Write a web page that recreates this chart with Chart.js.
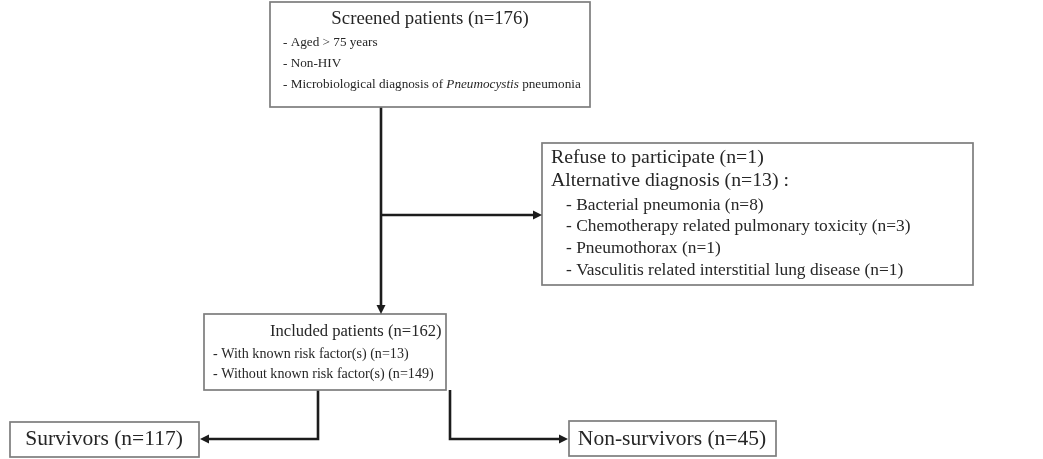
<!DOCTYPE html>
<html>
<head>
<meta charset="utf-8">
<script src="https://cdn.jsdelivr.net/npm/chart.js@4.4.1/dist/chart.umd.min.js"></script>
<style>
html,body{margin:0;padding:0;background:#fff;}
#wrap{width:1043px;height:459px;position:relative;}
</style>
</head>
<body>
<div id="wrap"><canvas id="c" width="1043" height="459"></canvas></div>
<script>
// ---- content (data) ----
const nodeLabels = ["Screened patients", "Included patients", "Survivors", "Non-survivors"];
const nodeCounts = [176, 162, 117, 45];
const criteriaLines = [
  [{t: "- Aged > 75 years"}],
  [{t: "- Non-HIV"}],
  [{t: "- Microbiological diagnosis of "}, {t: "Pneumocystis", i: true}, {t: " pneumonia"}]
];
const exclusionLabels = ["Refuse to participate", "Alternative diagnosis"];
const exclusionCounts = [1, 13];
const altDxLabels = ["Bacterial pneumonia", "Chemotherapy related pulmonary toxicity", "Pneumothorax", "Vasculitis related interstitial lung disease"];
const altDxCounts = [8, 3, 1, 1];
const riskLabels = ["With known risk factor(s)", "Without known risk factor(s)"];
const riskCounts = [13, 149];

// ---- layout (positions in a 1043 x 459 coordinate space) ----
const L = {
  screened: {x0: 270, y0: 2, x1: 590, y1: 107},
  excluded: {x0: 542, y0: 143, x1: 973, y1: 285},
  included: {x0: 204, y0: 314, x1: 446, y1: 390},
  survivors: {x0: 10, y0: 422, x1: 199, y1: 457},
  nonsurv: {x0: 569, y0: 421, x1: 776, y1: 456},
  mainX: 381, branchY: 215, splitY: 439, leftX: 318, rightX: 450
};
const serif = '"Liberation Serif", "Times New Roman", serif';
const boxColor = '#7d7d7d';
const lineColor = '#1c1c1c';
const textColor = '#262626';

const connectors = [
  [{x: L.mainX, y: L.screened.y1}, {x: L.mainX, y: L.included.y0 - 6}],
  [{x: L.mainX, y: L.branchY}, {x: L.excluded.x0 - 7, y: L.branchY}],
  [{x: L.leftX, y: L.included.y1}, {x: L.leftX, y: L.splitY}, {x: L.survivors.x1 + 9, y: L.splitY}],
  [{x: L.rightX, y: L.included.y1}, {x: L.rightX, y: L.splitY}, {x: L.nonsurv.x0 - 9, y: L.splitY}]
];
const arrowHeads = [
  {x: L.mainX, y: L.included.y0, dir: 'down'},
  {x: L.excluded.x0, y: L.branchY, dir: 'right'},
  {x: L.survivors.x1 + 1, y: L.splitY, dir: 'left'},
  {x: L.nonsurv.x0 - 1, y: L.splitY, dir: 'right'}
];

const flowPlugin = {
  id: 'flow',
  afterDatasetsDraw(chart) {
    const ctx = chart.ctx;
    const xs = chart.scales.x, ys = chart.scales.y;
    const px = v => xs.getPixelForValue(v);
    const py = v => ys.getPixelForValue(v);
    ctx.save();
    // boxes
    ctx.strokeStyle = boxColor;
    ctx.lineWidth = 1.7;
    ['screened', 'excluded', 'included', 'survivors', 'nonsurv'].forEach(k => {
      const b = L[k];
      ctx.strokeRect(px(b.x0), py(b.y0), px(b.x1) - px(b.x0), py(b.y1) - py(b.y0));
    });
    // arrowheads
    ctx.fillStyle = lineColor;
    arrowHeads.forEach(a => {
      const x = px(a.x), y = py(a.y), l = 9, w = 4.5;
      ctx.beginPath();
      if (a.dir === 'down') { ctx.moveTo(x, y); ctx.lineTo(x - w, y - l); ctx.lineTo(x + w, y - l); }
      if (a.dir === 'right') { ctx.moveTo(x, y); ctx.lineTo(x - l, y - w); ctx.lineTo(x - l, y + w); }
      if (a.dir === 'left') { ctx.moveTo(x, y); ctx.lineTo(x + l, y - w); ctx.lineTo(x + l, y + w); }
      ctx.closePath(); ctx.fill();
    });
    // text
    ctx.fillStyle = textColor;
    ctx.textBaseline = 'middle';
    const title = (s, n) => s + ' (n=' + n + ')';
    const txt = (s, x, y, size, align, italic) => {
      ctx.font = (italic ? 'italic ' : '') + size + 'px ' + serif;
      ctx.textAlign = align || 'left';
      ctx.fillText(s, px(x), py(y));
    };
    const rich = (segs, x, y, size) => {
      let cx = px(x);
      ctx.textAlign = 'left';
      segs.forEach(sg => {
        ctx.font = (sg.i ? 'italic ' : '') + size + 'px ' + serif;
        ctx.fillText(sg.t, cx, py(y));
        cx += ctx.measureText(sg.t).width;
      });
    };
    // screened
    txt(title(nodeLabels[0], nodeCounts[0]), 430, 19, 18.8, 'center');
    criteriaLines.forEach((segs, i) => rich(segs, 283, 43 + i * 21, 13.2));
    // excluded
    txt(title(exclusionLabels[0], exclusionCounts[0]), 551, 158, 19.8);
    txt(title(exclusionLabels[1], exclusionCounts[1]) + ' :', 551, 181, 19.8);
    altDxLabels.forEach((s, i) => txt('- ' + title(s, altDxCounts[i]), 566, 205 + i * 21.7, 17.4));
    // included
    txt(title(nodeLabels[1], nodeCounts[1]), 270, 332, 16.6);
    riskLabels.forEach((s, i) => txt('- ' + title(s, riskCounts[i]), 213, 354 + i * 20, 14.1));
    // outcomes
    txt(title(nodeLabels[2], nodeCounts[2]), 104, 439, 21.5, 'center');
    txt(title(nodeLabels[3], nodeCounts[3]), 672, 439, 21.5, 'center');
    ctx.restore();
  }
};

new Chart(document.getElementById('c'), {
  type: 'scatter',
  data: {
    datasets: connectors.map(pts => ({
      data: pts,
      showLine: true,
      borderColor: lineColor,
      borderWidth: 2.6,
      pointRadius: 0,
      tension: 0,
      borderCapStyle: 'butt',
      borderJoinStyle: 'miter'
    }))
  },
  options: {
    responsive: false,
    devicePixelRatio: 1,
    animation: false,
    layout: {padding: 0},
    plugins: {legend: {display: false}, tooltip: {enabled: false}},
    scales: {
      x: {type: 'linear', min: 0, max: 1043, display: false},
      y: {type: 'linear', min: 0, max: 459, reverse: true, display: false}
    }
  },
  plugins: [flowPlugin]
});
</script>
</body>
</html>
